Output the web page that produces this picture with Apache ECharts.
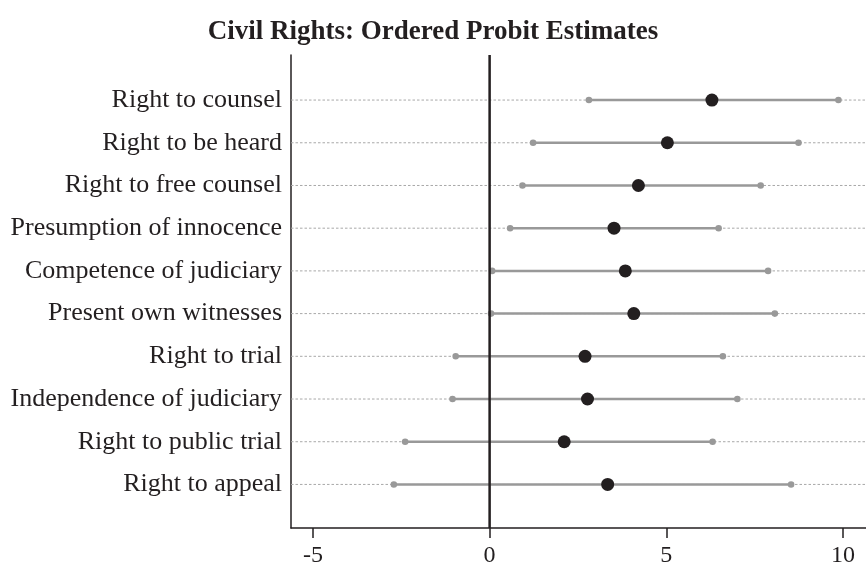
<!DOCTYPE html>
<html>
<head>
<meta charset="utf-8">
<script src="https://cdn.jsdelivr.net/npm/echarts@6/dist/echarts.min.js"></script>
<style>html,body{margin:0;padding:0;background:#fff;}#c{width:866px;height:570px;}</style>
</head>
<body>
<div id="c"></div>
<script>
const categories = ['Right to counsel', 'Right to be heard', 'Right to free counsel', 'Presumption of innocence', 'Competence of judiciary', 'Present own witnesses', 'Right to trial', 'Independence of judiciary', 'Right to public trial', 'Right to appeal'];
const estimates = [6.29, 5.03, 4.21, 3.52, 3.84, 4.08, 2.70, 2.77, 2.11, 3.34];
const lower = [2.81, 1.23, 0.93, 0.58, 0.07, 0.04, -0.96, -1.05, -2.39, -2.71];
const upper = [9.87, 8.74, 7.67, 6.48, 7.88, 8.07, 6.60, 7.01, 6.31, 8.53];
const xTicks = [-5, 0, 5, 10];
const referenceX = [0];
const rows = categories.map((c, i) => i + 1);

const FONT = 'Liberation Serif';
const INK = '#231f20';
const chart = echarts.init(document.getElementById('c'));
chart.setOption({
  animation: false,
  backgroundColor: '#fff',
  title: {
    text: 'Civil Rights: Ordered Probit Estimates',
    left: 'center',
    top: 14,
    textStyle: { fontFamily: FONT, fontWeight: 'bold', fontSize: 27, color: INK }
  },
  grid: { left: 291, right: 0, top: 55, bottom: 42, containLabel: false, outerBoundsMode: 'none' },
  xAxis: {
    type: 'value', min: -5.62, max: 10.65,
    axisLine: { show: true, onZero: false, lineStyle: { color: INK, width: 1.5 } },
    axisTick: { show: true, customValues: xTicks, length: 10, lineStyle: { color: INK, width: 1.5 } },
    axisLabel: { customValues: xTicks, fontFamily: FONT, fontSize: 24, color: INK, margin: 16 },
    splitLine: { show: false }
  },
  yAxis: {
    type: 'value', inverse: true, min: -0.055, max: 11.02,
    axisLine: { show: true, onZero: false, lineStyle: { color: INK, width: 1.5 } },
    axisTick: { show: false },
    axisLabel: {
      customValues: rows, fontFamily: FONT, fontSize: 26, color: INK, margin: 9,
      formatter: v => categories[Math.round(v) - 1] || ''
    },
    splitLine: { show: false }
  },
  series: [
    {
      type: 'custom', z: 1, silent: true,
      data: rows.map(r => [0, r]),
      renderItem: (params, api) => {
        const y = api.coord([0, api.value(1)])[1];
        const cs = params.coordSys;
        return { type: 'line', shape: { x1: cs.x, y1: y, x2: cs.x + cs.width, y2: y },
          style: { stroke: '#a8a8a8', lineWidth: 1, lineDash: [2.5, 2] } };
      }
    },
    {
      type: 'custom', z: 2, silent: true,
      data: rows.map((r, i) => [lower[i], upper[i], r]),
      encode: { x: [0, 1], y: 2 },
      renderItem: (params, api) => {
        const p1 = api.coord([api.value(0), api.value(2)]);
        const p2 = api.coord([api.value(1), api.value(2)]);
        return { type: 'group', children: [
          { type: 'line', shape: { x1: p1[0], y1: p1[1], x2: p2[0], y2: p2[1] }, style: { stroke: '#999999', lineWidth: 2.5 } },
          { type: 'circle', shape: { cx: p1[0], cy: p1[1], r: 3.3 }, style: { fill: '#999999' } },
          { type: 'circle', shape: { cx: p2[0], cy: p2[1], r: 3.3 }, style: { fill: '#999999' } }
        ] };
      }
    },
    {
      type: 'custom', z: 3, silent: true,
      data: referenceX.map(v => [v, 1]),
      renderItem: (params, api) => {
        const x = api.coord([api.value(0), 1])[0];
        const cs = params.coordSys;
        return { type: 'line', shape: { x1: x, y1: cs.y, x2: x, y2: cs.y + cs.height },
          style: { stroke: INK, lineWidth: 2.5 } };
      }
    },
    {
      type: 'scatter', z: 4, silent: true,
      data: rows.map((r, i) => [estimates[i], r]),
      symbol: 'circle', symbolSize: 13,
      itemStyle: { color: INK, opacity: 1 }
    }
  ]
});
</script>
</body>
</html>
